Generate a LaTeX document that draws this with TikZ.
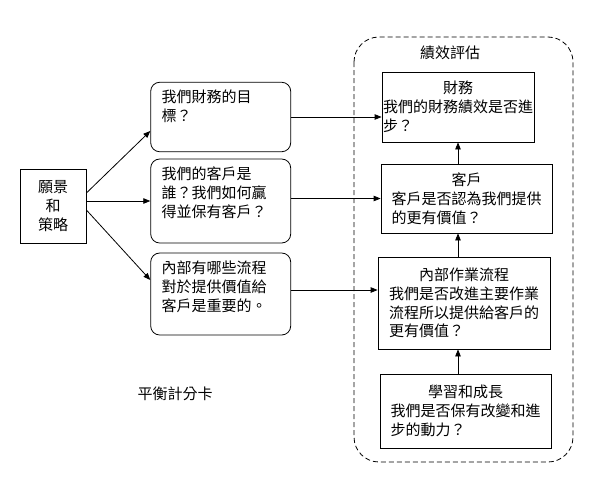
\documentclass[tikz,border=0pt]{standalone}
\usepackage{fontspec}
\usepackage{tikz}
\usetikzlibrary{arrows.meta}
\newfontfamily\cjk{Noto Sans CJK TC}

\begin{document}
\begin{tikzpicture}[x=1pt, y=-1pt, line width=0.8pt,
    >={Triangle[length=7pt,width=5.5pt]},
    every node/.style={font=\cjk\fontsize{15pt}{18.8pt}\selectfont},
    plainbox/.style={draw, rectangle, inner xsep=1pt, align=left},
    softbox/.style={draw, rounded corners=9pt, inner xsep=11pt, inner ysep=8pt}]

    \useasboundingbox (0,0) rectangle (596,479);

    % 1. 外框（績效評估）
    \draw[dash pattern=on 5pt off 3pt, rounded corners=25pt] (354,37) rectangle (573,462);
    \node (eval) at (450,53) {績效評估};

    % 2. 願景和策略
    \node[draw, align=center, minimum width=66pt, minimum height=74pt] (vis) at (53,206) {願景\\和\\策略};

    % 3. 三個問題
    \node[softbox] (q1) at (220.7,117)
        {\parbox[c][53.5pt][t]{118pt}{我們財務的目\\標？}};
    \node[softbox] (q2) at (220.7,201)
        {\parbox[c][68pt][t]{118pt}{我們的客戶是\\誰？我們如何贏\\得並保有客戶？}};
    \node[softbox] (q3) at (220.7,294)
        {\parbox[c][66pt][t]{118pt}{內部有哪些流程\\對於提供價值給\\客戶是重要的。}};

    % 4. 四個構面
    \node[plainbox, minimum width=152pt, minimum height=70pt] (fin) at (458,107)
        {\makebox[10em]{財務}\\我們的財務績效是否進\\步？};
    \node[plainbox, minimum width=171pt, minimum height=69pt] (cus) at (466.5,198.5)
        {\makebox[10em]{客戶}\\客戶是否認為我們提供\\的更有價值？};
    \node[plainbox, minimum width=172pt, minimum height=92pt] (inp) at (464,303)
        {\makebox[10em]{內部作業流程}\\我們是否改進主要作業\\流程所以提供給客戶的\\更有價值？};
    \node[plainbox, minimum width=171pt, minimum height=74pt] (lrn) at (465.5,411)
        {\makebox[10em]{學習和成長}\\我們是否保有改變和進\\步的動力？};

    \node (bsc) at (175,394) {平衡計分卡};

    % 5. 箭頭
    \draw[->] ([yshift=13pt]vis.east) -- ([yshift=-14pt]q1.west);
    \draw[->] ([yshift=5pt]vis.east) -- ([yshift=5pt]vis.east -| q2.west);
    \draw[->] ([yshift=-4pt]vis.east) -- ([yshift=14pt]q3.west);

    \draw[->] (q1.east) -- (q1.east -| fin.west);
    \draw[->] (cus.west -| q2.east) -- (cus.west);
    \draw[->] ([yshift=4pt]q3.east) -- ([yshift=4pt]q3.east -| inp.west);

    \coordinate (spine) at (458,0);
    \draw[->] (lrn.north -| spine) -- (inp.south -| spine);
    \draw[->] (inp.north -| spine) -- (cus.south -| spine);
    \draw[->] (cus.north -| spine) -- (fin.south -| spine);
\end{tikzpicture}
\end{document}
